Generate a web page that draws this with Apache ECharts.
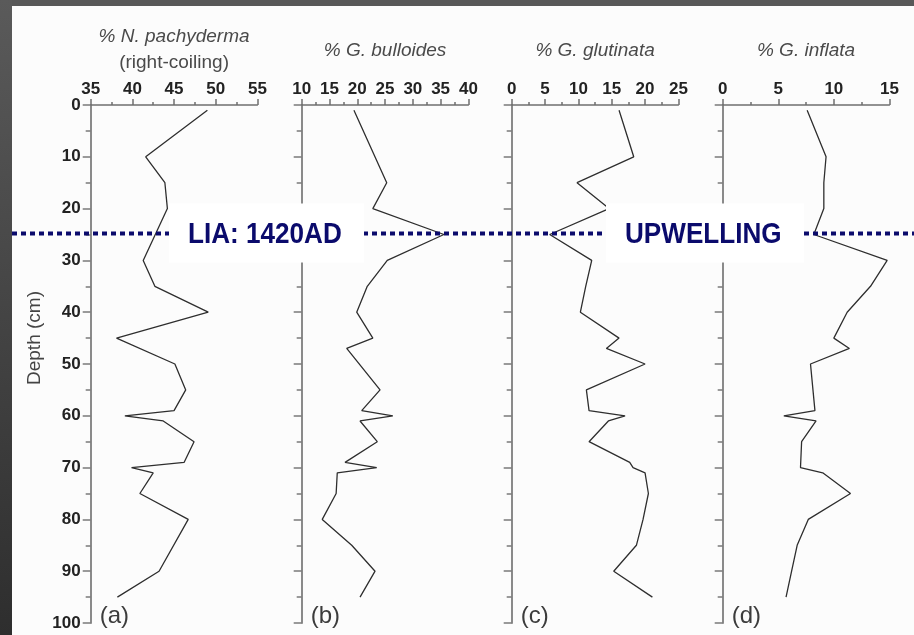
<!DOCTYPE html>
<html>
<head>
<meta charset="utf-8">
<script src="https://cdn.jsdelivr.net/npm/echarts@6/dist/echarts.min.js"></script>
<style>
  html, body { margin: 0; padding: 0; }
  #frame { position: relative; width: 914px; height: 635px; background: #585858; overflow: hidden; }
  #side { position: absolute; left: 0; top: 0; width: 12px; height: 635px; background: linear-gradient(#5a5a5a, #2e2e2e); }
  #sheet { position: absolute; left: 12px; top: 6px; right: 0; bottom: 0; background: #fcfcfc; }
  #chart { position: absolute; left: 0; top: 0; width: 914px; height: 635px; }
</style>
</head>
<body>
<div id="frame"><div id="side"></div><div id="sheet"></div><div id="chart"></div></div>
<script>
// Core depth profiles (depth in cm, abundance in %)
const depthA = [1, 10, 15, 20, 30, 35, 40, 45, 50, 55, 59, 60, 61, 65, 69, 70, 71, 75, 80, 90, 95];
const pachyderma = [49, 41.6, 43.9, 44.2, 41.3, 42.7, 49.1, 38.1, 45.1, 46.4, 45, 39.1, 43.7, 47.4, 46.2, 39.9, 42.5, 40.9, 46.7, 43.2, 38.2];

const depthB = [1, 15, 20, 25, 30, 35, 40, 45, 47, 55, 59, 60, 61, 65, 69, 70, 71, 75, 80, 85, 90, 95];
const bulloides = [19.4, 25.3, 22.8, 35.6, 25.4, 21.8, 19.9, 22.8, 18.1, 24.1, 20.8, 26.4, 20.5, 23.6, 17.8, 23.5, 16.4, 16.2, 13.7, 19, 23.2, 20.5];

const depthC = [1, 10, 15, 20, 25, 30, 35, 40, 45, 47, 50, 55, 59, 60, 61, 65, 69, 70, 71, 75, 80, 85, 90, 95];
const glutinata = [16.1, 18.3, 9.8, 14.6, 5.7, 12, 11.1, 10.3, 16.1, 14.2, 20, 11.2, 11.6, 17, 14.5, 11.6, 17.7, 18.2, 20, 20.5, 19.7, 18.7, 15.3, 21.1];

const depthD = [1, 10, 15, 20, 25, 30, 35, 40, 45, 47, 50, 59, 60, 61, 65, 70, 71, 75, 80, 85, 90, 95];
const inflata = [7.6, 9.3, 9.1, 9.1, 8.2, 14.8, 13.3, 11.2, 10, 11.4, 7.9, 8.3, 5.5, 8.4, 7.1, 7, 9, 11.5, 7.7, 6.7, 6.2, 5.7];

// Axis ranges for each panel
const xRanges = [[35, 55], [10, 40], [0, 25], [0, 15]];
const depthRange = [0, 100];
const titleLines = [['% N. pachyderma', '(right-coiling)'], ['% G. bulloides'], ['% G. glutinata'], ['% G. inflata']];
const panelTags = ['(a)', '(b)', '(c)', '(d)'];
const eventDepth = 25;
const eventLabels = ['LIA: 1420AD', 'UPWELLING'];

const profiles = [
  [depthA, pachyderma],
  [depthB, bulloides],
  [depthC, glutinata],
  [depthD, inflata]
];

const FONT = '"Liberation Sans", Arial, sans-serif';
const lefts = [90.7, 301.7, 511.7, 722.7];
const gridTop = 105, gridH = 518, gridW = 166.7;

const grids = lefts.map(l => ({ left: l, top: gridTop, width: gridW, height: gridH }));

const xAxes = xRanges.map((r, i) => ({
  gridIndex: i, type: 'value', position: 'top', min: r[0], max: r[1], interval: 5,
  axisLine: { show: true, onZero: false, lineStyle: { color: '#6f6f6f', width: 1.5 } },
  axisTick: { show: true, length: 6, lineStyle: { color: '#6f6f6f', width: 1.5 } },
  minorTick: { show: true, splitNumber: 2, length: 3, lineStyle: { color: '#6f6f6f', width: 1.5 } },
  splitLine: { show: false },
  axisLabel: { fontSize: 17, fontWeight: 'bold', color: '#222', margin: 7, fontFamily: FONT }
}));

const yAxes = xRanges.map((r, i) => ({
  gridIndex: i, type: 'value', inverse: true, min: depthRange[0], max: depthRange[1], interval: 10,
  axisLine: { show: true, onZero: false, lineStyle: { color: '#8a8a8a', width: 2 } },
  axisTick: { show: true, length: 8, lineStyle: { color: '#7a7a7a', width: 1.5 } },
  minorTick: { show: true, splitNumber: 2, length: 5, lineStyle: { color: '#7a7a7a', width: 1.5 } },
  splitLine: { show: false },
  axisLabel: { show: i === 0, fontSize: 17, fontWeight: 'bold', color: '#222', margin: 10, fontFamily: FONT }
}));

const series = profiles.map((p, i) => ({
  type: 'line', xAxisIndex: i, yAxisIndex: i,
  data: p[0].map((d, k) => [p[1][k], d]),
  showSymbol: false, silent: true,
  lineStyle: { color: '#2e2e2e', width: 1.3 }
}));

const chart = echarts.init(document.getElementById('chart'), null, { renderer: 'canvas' });
chart.setOption({
  animation: false,
  backgroundColor: 'transparent',
  grid: grids, xAxis: xAxes, yAxis: yAxes, series: series
});

// Titles, panel tags, depth caption and the event line
const gfx = [];
lefts.forEach((l, i) => {
  const cx = l + gridW / 2;
  const lines = titleLines[i];
  const baseY = lines.length === 2 ? 37 : 51;
  lines.forEach((t, j) => {
    gfx.push({
      type: 'text', x: cx, y: baseY + j * 26, z: 5,
      style: { text: t, font: (j === 0 ? 'italic ' : '') + '19px ' + FONT, fill: '#4a4a4a',
               textAlign: 'center', textVerticalAlign: 'middle', align: 'center', verticalAlign: 'middle' }
    });
  });
  gfx.push({
    type: 'text', x: l + 9, y: 616, z: 5,
    style: { text: panelTags[i], font: '24px ' + FONT, fill: '#3c3c3c',
             textAlign: 'left', textVerticalAlign: 'middle', align: 'left', verticalAlign: 'middle' }
  });
});
gfx.push({
  type: 'text', x: 35, y: 338, rotation: Math.PI / 2, z: 5,
  style: { text: 'Depth (cm)', font: '19px ' + FONT, fill: '#444',
           textAlign: 'center', textVerticalAlign: 'middle', align: 'center', verticalAlign: 'middle' }
});

const yEvt = chart.convertToPixel({ yAxisIndex: 0 }, eventDepth) - 1;
gfx.push({
  type: 'line', z: 20, silent: true,
  shape: { x1: 12, y1: yEvt, x2: 914, y2: yEvt },
  style: { stroke: '#0b0b6c', lineWidth: 4, lineDash: [5, 4] }
});
const boxes = [[169, 195, 188], [606, 198, 625]];
boxes.forEach((b, i) => {
  gfx.push({
    type: 'rect', z: 21, silent: true,
    shape: { x: b[0], y: yEvt - 30, width: b[1], height: 59 },
    style: { fill: '#ffffff' }
  });
  gfx.push({
    type: 'text', x: b[2], y: yEvt + 1, z: 22, scaleX: 0.87, originX: 0,
    style: { text: eventLabels[i], font: 'bold 30px ' + FONT, fill: '#0b0b6c',
             textAlign: 'left', textVerticalAlign: 'middle', align: 'left', verticalAlign: 'middle' }
  });
});
chart.setOption({ graphic: { elements: gfx } });
</script>
</body>
</html>
